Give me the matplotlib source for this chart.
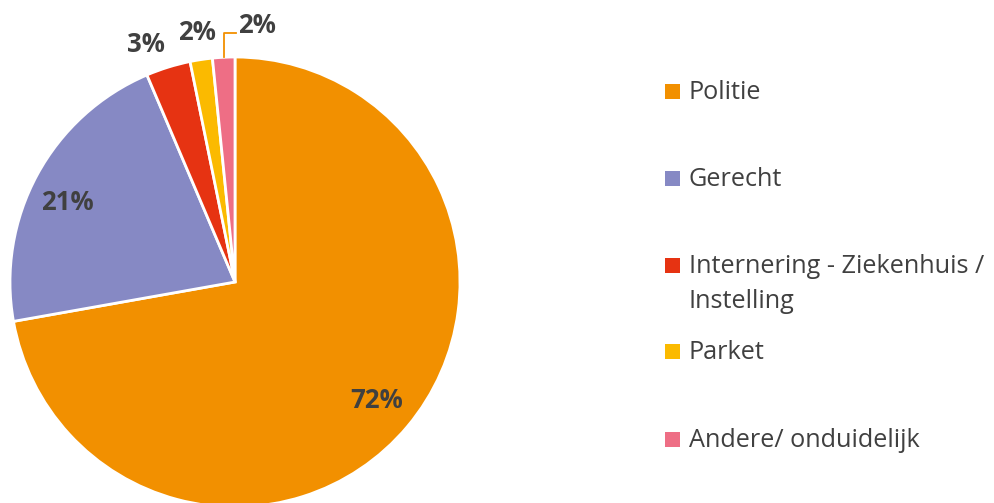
import matplotlib
matplotlib.use("Agg")
import matplotlib.pyplot as plt
import numpy as np
from matplotlib.patches import Rectangle

categories = ["Politie", "Gerecht", "Internering - Ziekenhuis /\nInstelling", "Parket", "Andere/ onduidelijk"]
values = [72.2, 21.4, 3.2, 1.6, 1.6]
pct_labels = ["72%", "21%", "3%", "2%", "2%"]
colors = ["#F29000", "#8689C4", "#E63312", "#FBBA00", "#EE6E85"]

plt.rcParams['font.family'] = ['Open Sans', 'DejaVu Sans']
W, H = 995, 503
fig = plt.figure(figsize=(W / 100, H / 100), dpi=100)
cx, cy, R = 235, 282, 225
ax = fig.add_axes([(cx - R) / W, (H - cy - R) / H, 2 * R / W, 2 * R / H])
wedges, _ = ax.pie(values, colors=colors, startangle=90, counterclock=False, radius=1,
                   wedgeprops=dict(edgecolor="white", linewidth=2))
ax.set_xlim(-1, 1)
ax.set_ylim(-1, 1)
ax.set_aspect('equal')
ax.axis('off')

dists = [0.82, 0.82, 1.13, 1.12, None]
offsets = [(0, 0), (-5, -8), (-14, -5), (0, 0), (0, 0)]
txtcol = "#404040"
for i, w in enumerate(wedges):
    mid = np.deg2rad((w.theta1 + w.theta2) / 2)
    if dists[i] is not None:
        x, y = dists[i] * np.cos(mid), dists[i] * np.sin(mid)
        ax.annotate(pct_labels[i], (x, y), xytext=offsets[i], textcoords='offset pixels',
                    ha='center', va='center', fontsize=18.5,
                    fontweight='bold', color=txtcol, annotation_clip=False)
    else:
        # leader-lined label
        x0, y0 = 1.0 * np.cos(mid), 1.0 * np.sin(mid)
        ytop = 1.107
        xl = x0 + 0.053
        ax.plot([x0, x0, xl], [y0, ytop, ytop], color=colors[0], lw=1.3, clip_on=False)
        ax.text(xl + 0.01, ytop + 0.035, pct_labels[i], ha='left', va='center', fontsize=18.5,
                fontweight='bold', color=txtcol, clip_on=False)

# legend
baselines = [99, 186, 273, 359, 447]
line_gap = 35
for i, (lab, c) in enumerate(zip(categories, colors)):
    b = baselines[i]
    fig.patches.append(Rectangle((665 / W, (H - b) / H), 15 / W, 15 / H,
                                 transform=fig.transFigure, facecolor=c, edgecolor='none'))
    for k, line in enumerate(lab.split("\n")):
        fig.text(689 / W, (H - b - k * line_gap) / H, line, ha='left', va='baseline',
                 fontsize=18.2, color=txtcol)

fig.savefig("out.png", dpi=100)
